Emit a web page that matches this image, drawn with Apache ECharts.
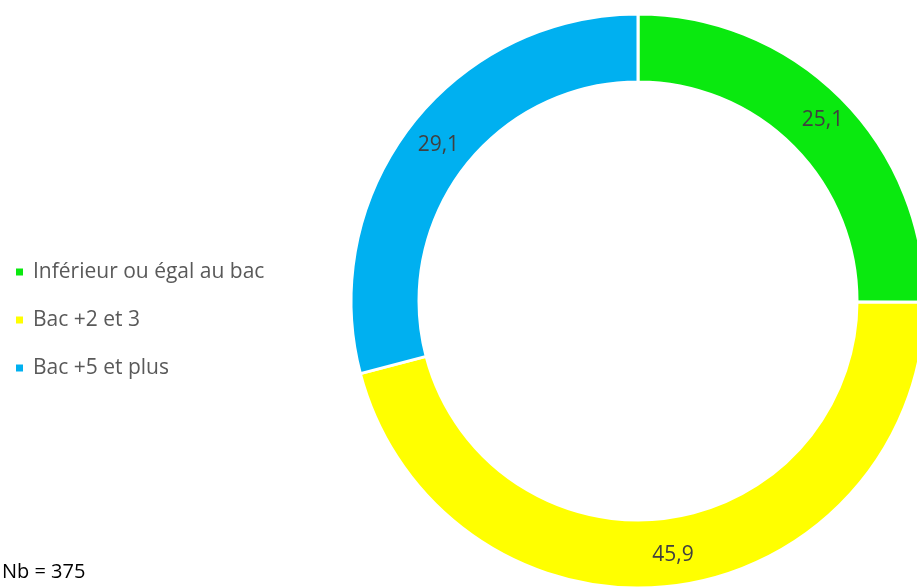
<!DOCTYPE html>
<html>
<head>
<meta charset="utf-8">
<script src="https://cdn.jsdelivr.net/npm/echarts@6/dist/echarts.min.js"></script>
<style>
  html, body { margin: 0; padding: 0; background: #fff; }
  #chart { width: 917px; height: 587px; }
</style>
</head>
<body>
<div id="chart"></div>
<script>
const categories = ["Inférieur ou égal au bac", "Bac +2 et 3", "Bac +5 et plus"];
const values = [25.1, 45.9, 29.1];
const colors = ["#0ae90f", "#ffff00", "#00b0f0"];
const noteText = "Nb = 375";

const chart = echarts.init(document.getElementById("chart"));
const option = {
  animation: false,
  color: colors,
  legend: {
    orient: "vertical",
    left: 9,
    top: 256,
    icon: "rect",
    itemWidth: 9,
    itemHeight: 9,
    itemGap: 26,
    textStyle: {
      fontFamily: "Open Sans",
      fontSize: 21,
      color: "#595959",
      lineHeight: 22,
      padding: [0, 0, 0, 4],
    },
    data: categories,
  },
  graphic: [
    {
      type: "text",
      left: 2,
      top: 562,
      style: {
        text: noteText,
        fontFamily: "Open Sans",
        fontSize: 20,
        fill: "#000",
      },
    },
  ],
  series: [
    {
      type: "pie",
      center: [638, 301],
      radius: [219, 287],
      startAngle: 90,
      clockwise: true,
      itemStyle: {
        borderColor: "#fff",
        borderWidth: 3,
      },
      label: {
        show: true,
        position: "inside",
        formatter: (p) => String(p.value).replace(".", ","),
        fontFamily: "Open Sans",
        fontSize: 21,
        color: "#404040",
        padding: [10, 0, 0, 6],
      },
      labelLine: { show: false },
      emphasis: { disabled: true },
      data: categories.map((name, i) => ({ name: name, value: values[i] })),
    },
  ],
};
chart.setOption(option);
</script>
</body>
</html>
